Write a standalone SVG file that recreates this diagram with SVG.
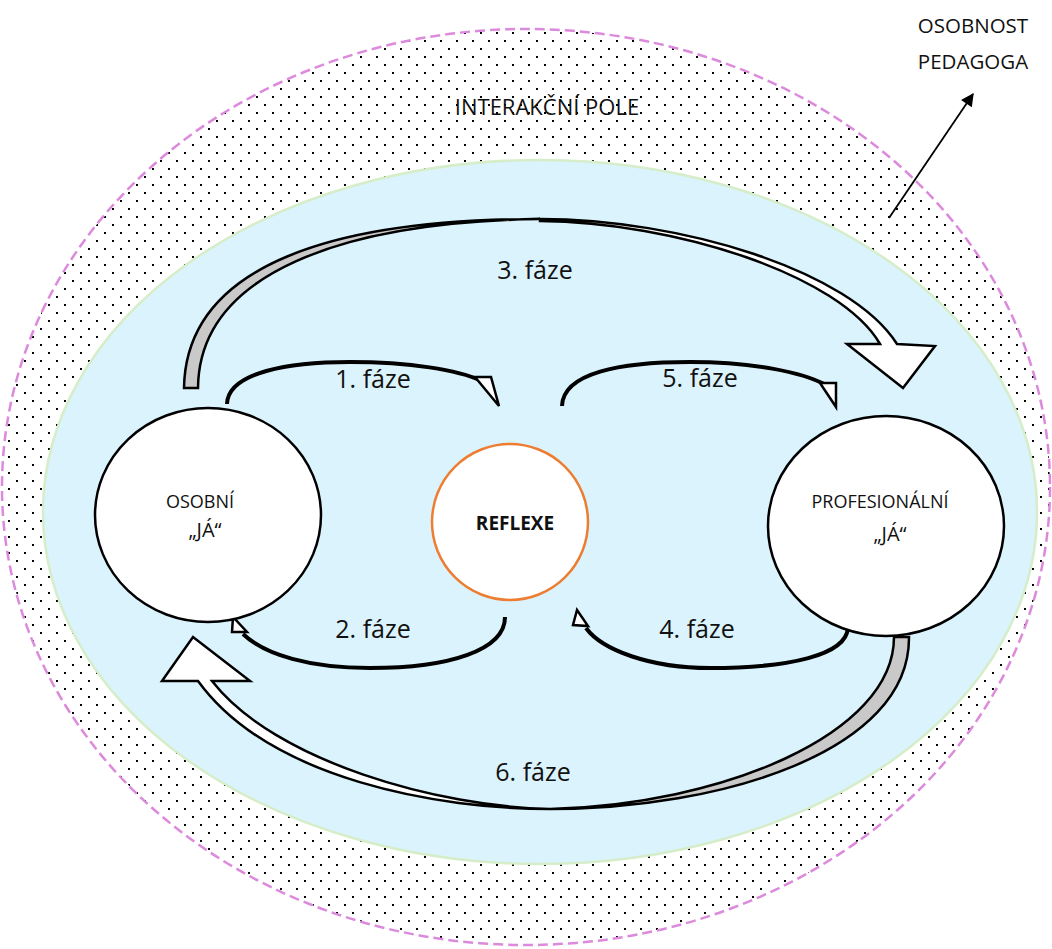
<svg xmlns="http://www.w3.org/2000/svg" width="1052" height="949" viewBox="0 0 1052 949">
  <defs>
    <pattern id="dots" width="16" height="16" patternUnits="userSpaceOnUse">
      <rect x="0" y="0" width="2" height="2" fill="#000"/>
      <rect x="8" y="8" width="2" height="2" fill="#000"/>
    </pattern>
    <marker id="pointer" viewBox="0 0 10 10" refX="9" refY="5" markerWidth="15" markerHeight="13" orient="auto" markerUnits="userSpaceOnUse">
      <path d="M0,0 L10,5 L0,10 Z" fill="#000"/>
    </marker>
    <style>
      text { font-family: "Open Sans", "Liberation Sans", sans-serif; fill: #111; }
      .phase { font-size: 25px; text-anchor: middle; }
      .label { font-size: 18px; text-anchor: middle; }
      .big { font-size: 20.5px; text-anchor: middle; }
      .node { fill: #fff; stroke: #000; stroke-width: 2.5; }
      .thin { fill: none; stroke: #000; stroke-width: 4; stroke-linecap: butt; }
      .tip { fill: #fff; stroke: #000; stroke-width: 2.5; stroke-linejoin: miter; }
      .band { stroke: #000; stroke-width: 2.5; stroke-linejoin: miter; }
    </style>
  </defs>

  <rect width="1052" height="949" fill="#fff"/>

  <!-- interaction field: dotted ring -->
  <g id="field">
    <ellipse cx="526" cy="487" rx="524" ry="458" fill="url(#dots)" stroke="#DC8ADC" stroke-width="2.5" stroke-dasharray="10,5"/>
    <ellipse cx="540" cy="512" rx="497" ry="352" fill="#DBF3FC" stroke="#D6EDC9" stroke-width="2.5"/>
    <text x="547" y="115" style="font-size:22px;text-anchor:middle">INTERAKČNÍ POLE</text>
  </g>

  <!-- outer label with pointer -->
  <g id="teacher">
    <text x="973" y="33" class="big">OSOBNOST</text>
    <text x="973" y="69" class="big">PEDAGOGA</text>
    <line x1="889" y1="218" x2="973" y2="94" stroke="#000" stroke-width="1.8" marker-end="url(#pointer)"/>
  </g>

  <!-- connectors -->
  <g id="connectors">
    <!-- phase 3: large curved arrow over the top -->
    <path class="band" fill="#C9C9C9" d="M184,388 C186,262 340,219 540,219 C345,222 199,272 198,388 Z"/>
    <path class="band" fill="#fff" d="M540,219 C680,219 850,270 897,344 L935,346 L903,388 L847,344 L880,344 C840,275 675,222 540,221 Z"/>

    <!-- phase 6: large curved arrow under the bottom -->
    <path class="band" fill="#C9C9C9" d="M894,637 L909,637 C910,752 720,809 550,809 C720,805 894,735 894,637 Z"/>
    <path class="band" fill="#fff" d="M550,809 C440,809 270,780 198,681 L162,681 L193,637 L250,681 L212,681 C275,762 440,807 550,809 Z"/>

    <!-- phase 1 -->
    <path class="thin" d="M227,404 C228,372 290,362 350,362 C410,362 458,370 482,381"/>
    <path class="tip" d="M475,377 L491,377 L499,406 Z"/>
    <!-- phase 5 -->
    <path class="thin" d="M562,406 C563,373 620,362 690,362 C752,362 802,372 826,385"/>
    <path class="tip" d="M820,383 L836,383 L836,407 Z"/>
    <!-- phase 2 -->
    <path class="thin" d="M505,617 C505,650 450,668 370,668 C310,668 265,655 243,634"/>
    <path class="tip" d="M233,617 L232,632 L247,632 Z"/>
    <!-- phase 4 -->
    <path class="thin" d="M848,628 C846,655 790,668 710,668 C650,668 602,650 586,628"/>
    <path class="tip" d="M577,610 L573,625 L588,626 Z"/>
  </g>

  <!-- phase labels -->
  <g id="labels">
    <text x="535" y="279" class="phase">3. fáze</text>
    <text x="373" y="388" class="phase">1. fáze</text>
    <text x="700" y="387" class="phase">5. fáze</text>
    <text x="373" y="638" class="phase">2. fáze</text>
    <text x="697" y="638" class="phase">4. fáze</text>
    <text x="533" y="781" class="phase">6. fáze</text>
  </g>

  <g id="personal">
    <ellipse class="node" cx="208" cy="515" rx="113" ry="107"/>
    <text x="200" y="508" class="label">OSOBNÍ</text>
    <text x="205" y="537" class="label" style="font-size:20px">„JÁ“</text>
  </g>

  <g id="reflection">
    <circle cx="510" cy="522" r="78" fill="#fff" stroke="#ED7D31" stroke-width="2.5"/>
    <text x="515" y="530" style="font-size:19px;font-weight:bold;text-anchor:middle">REFLEXE</text>
  </g>

  <g id="professional">
    <ellipse class="node" cx="886" cy="526" rx="118" ry="110"/>
    <text x="880" y="508" class="label">PROFESIONÁLNÍ</text>
    <text x="890" y="541" class="label" style="font-size:20px">„JÁ“</text>
  </g>
</svg>
